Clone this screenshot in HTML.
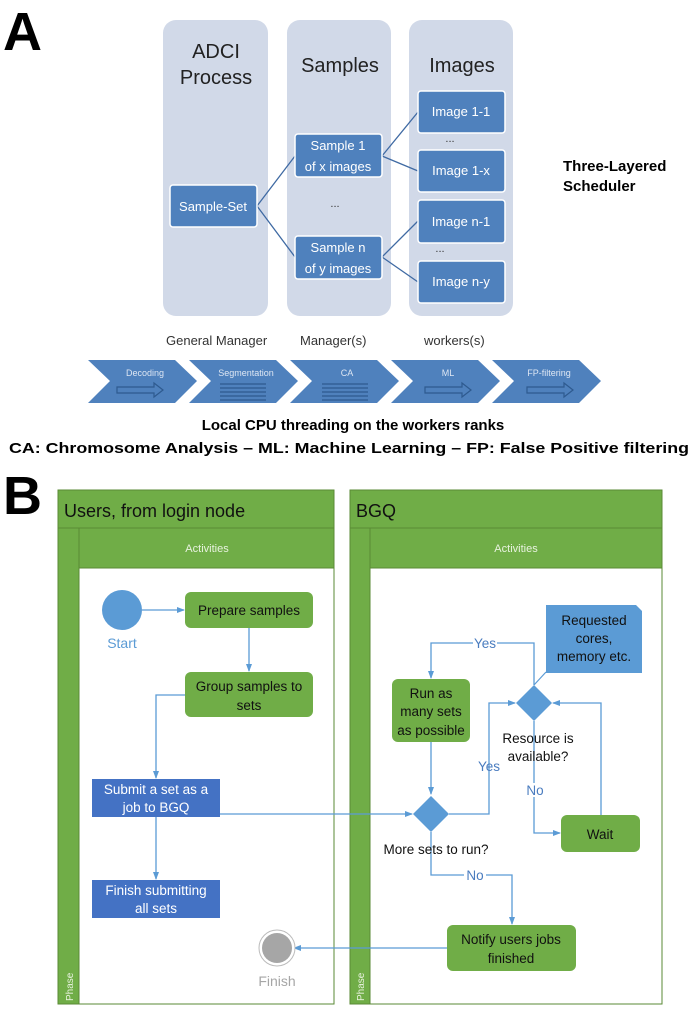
<!DOCTYPE html>
<html><head><meta charset="utf-8"><style>
html,body{margin:0;padding:0;background:#fff}
svg{display:block}
text{font-family:"Liberation Sans",sans-serif}
</style></head><body>
<svg width="694" height="1009" viewBox="0 0 694 1009" xmlns="http://www.w3.org/2000/svg">
<defs>
<marker id="ar" markerWidth="8" markerHeight="8" refX="7" refY="4" orient="auto" markerUnits="userSpaceOnUse"><path d="M0,1 L8,4 L0,7 Z" fill="#5b9bd5"/></marker>
</defs>
<!-- A -->
<text x="3" y="50" font-size="54" font-weight="bold">A</text>
<rect x="163" y="20" width="105" height="296" rx="13" fill="#d1d9e8"/>
<rect x="287" y="20" width="104" height="296" rx="13" fill="#d1d9e8"/>
<rect x="409" y="20" width="104" height="296" rx="13" fill="#d1d9e8"/>
<g font-size="20" fill="#222" text-anchor="middle">
<text x="216" y="58">ADCI</text><text x="216" y="84">Process</text>
<text x="340" y="72">Samples</text><text x="462" y="72">Images</text>
</g>
<g stroke="#3f6aa3" stroke-width="1.3" fill="none">
<path d="M257,206 L295,156 M257,206 L295,257 M382,156 L418,112 M382,156 L418,171 M382,257 L418,221 M382,257 L418,282"/>
</g>
<g fill="#4f81bd" stroke="#fff" stroke-width="1.5">
<rect x="170" y="185" width="87" height="42" rx="3"/>
<rect x="295" y="134" width="87" height="43" rx="3"/>
<rect x="295" y="236" width="87" height="43" rx="3"/>
<rect x="418" y="91" width="87" height="42" rx="3"/>
<rect x="418" y="150" width="87" height="42" rx="3"/>
<rect x="418" y="200" width="87" height="43" rx="3"/>
<rect x="418" y="261" width="87" height="42" rx="3"/>
</g>
<g font-size="13" fill="#fff" text-anchor="middle">
<text x="213" y="211">Sample-Set</text>
<text x="338" y="150">Sample 1</text><text x="338" y="171">of x images</text>
<text x="338" y="252">Sample n</text><text x="338" y="273">of y images</text>
<text x="461" y="116">Image 1-1</text><text x="461" y="175">Image 1-x</text>
<text x="461" y="226">Image n-1</text><text x="461" y="286">Image n-y</text>
</g>
<g font-size="11" fill="#333" text-anchor="middle"><text x="335" y="207">...</text><text x="450" y="142">...</text><text x="440" y="252">...</text></g>
<text x="563" y="171" font-size="15" font-weight="bold">Three-Layered</text>
<text x="563" y="191" font-size="15" font-weight="bold">Scheduler</text>
<g font-size="13" fill="#333"><text x="166" y="345">General Manager</text><text x="300" y="345">Manager(s)</text><text x="424" y="345">workers(s)</text></g>
<g fill="#4f81bd">
<path d="M88,360 L175,360 L197,381 L175,403 L88,403 L110,381 Z"/>
<path d="M189,360 L276,360 L298,381 L276,403 L189,403 L211,381 Z"/>
<path d="M290,360 L377,360 L399,381 L377,403 L290,403 L312,381 Z"/>
<path d="M391,360 L478,360 L500,381 L478,403 L391,403 L413,381 Z"/>
<path d="M492,360 L579,360 L601,381 L579,403 L492,403 L514,381 Z"/>
</g>
<g font-size="9" fill="#dde6f3" text-anchor="middle">
<text x="145" y="376">Decoding</text><text x="246" y="376">Segmentation</text><text x="347" y="376">CA</text><text x="448" y="376">ML</text><text x="549" y="376">FP-filtering</text>
</g>
<g stroke="#2e5a8f" stroke-width="1.2" fill="none">
<path d="M117,387 L154,387 L154,383 L163,390 L154,397 L154,393 L117,393 Z"/>
<path d="M425,387 L462,387 L462,383 L471,390 L462,397 L462,393 L425,393 Z"/>
<path d="M527,387 L564,387 L564,383 L573,390 L564,397 L564,393 L527,393 Z"/>
<path d="M220,384 H266 M220,388 H266 M220,392 H266 M220,396 H266 M220,400 H266"/>
<path d="M322,384 H368 M322,388 H368 M322,392 H368 M322,396 H368 M322,400 H368"/>
</g>
<g font-size="15" font-weight="bold" text-anchor="middle">
<text x="353" y="430">Local CPU threading on the workers ranks</text>
<text x="349" y="453" textLength="680" lengthAdjust="spacingAndGlyphs">CA: Chromosome Analysis – ML: Machine Learning – FP: False Positive filtering</text>
</g>
<!-- B -->
<text x="3" y="514" font-size="54" font-weight="bold">B</text>
<g stroke="#5a8a34" stroke-width="1">
<rect x="58" y="490" width="276" height="514" fill="#fff"/>
<rect x="58" y="490" width="276" height="38" fill="#70ad47"/>
<rect x="58" y="528" width="21" height="476" fill="#70ad47"/>
<rect x="79" y="528" width="255" height="40" fill="#70ad47"/>
<rect x="350" y="490" width="312" height="514" fill="#fff"/>
<rect x="350" y="490" width="312" height="38" fill="#70ad47"/>
<rect x="350" y="528" width="20" height="476" fill="#70ad47"/>
<rect x="370" y="528" width="292" height="40" fill="#70ad47"/>
</g>
<text x="64" y="517" font-size="18" fill="#111">Users, from login node</text>
<text x="356" y="517" font-size="18" fill="#111">BGQ</text>
<g font-size="11" fill="#e8f2df" text-anchor="middle"><text x="207" y="552">Activities</text><text x="516" y="552">Activities</text></g>
<g font-size="10" fill="#e8f2df"><text transform="translate(73,1001) rotate(-90)">Phase</text><text transform="translate(364,1001) rotate(-90)">Phase</text></g>
<!-- connectors -->
<g stroke="#5b9bd5" stroke-width="1.3" fill="none" marker-end="url(#ar)">
<path d="M142,610 H184"/>
<path d="M249,628 V671"/>
<path d="M185,695 H156 V778"/>
<path d="M156,817 V879"/>
<path d="M210,814 H412"/>
<path d="M431,742 V794"/>
<path d="M449,814 H489 V703 H515"/>
<path d="M534,685 V643 H431 V678"/>
<path d="M534,721 V833 H560"/>
<path d="M601,815 V703 H553"/>
<path d="M431,832 V875 H512 V924"/>
<path d="M447,948 H294"/>
</g>
<path d="M534,685 L546,672" stroke="#5b9bd5" stroke-width="1.2"/>
<!-- nodes -->
<circle cx="122" cy="610" r="20" fill="#5b9bd5"/>
<text x="122" y="648" font-size="14" fill="#5b9bd5" text-anchor="middle">Start</text>
<g fill="#70ad47">
<rect x="185" y="592" width="128" height="36" rx="6"/>
<rect x="185" y="672" width="128" height="45" rx="6"/>
<rect x="392" y="679" width="78" height="63" rx="6"/>
<rect x="561" y="815" width="79" height="37" rx="6"/>
<rect x="447" y="925" width="129" height="46" rx="6"/>
</g>
<g fill="#4472c4"><rect x="92" y="779" width="128" height="38"/><rect x="92" y="880" width="128" height="38"/></g>
<path d="M546,605 L636,605 L642,611 L642,673 L546,673 Z" fill="#5b9bd5"/>
<path d="M534,685 L552,703 L534,721 L516,703 Z" fill="#5b9bd5"/>
<path d="M431,796 L449,814 L431,832 L413,814 Z" fill="#5b9bd5"/>
<circle cx="277" cy="948" r="18" fill="#fff" stroke="#bbb" stroke-width="1"/>
<circle cx="277" cy="948" r="15" fill="#a6a6a6"/>
<text x="277" y="986" font-size="14" fill="#a6a6a6" text-anchor="middle">Finish</text>
<g font-size="13.5" fill="#111" text-anchor="middle">
<text x="249" y="615">Prepare samples</text>
<text x="249" y="691">Group samples to</text><text x="249" y="710">sets</text>
<text x="431" y="698">Run as</text><text x="431" y="716">many sets</text><text x="431" y="735">as possible</text>
<text x="600" y="839">Wait</text>
<text x="511" y="944">Notify users jobs</text><text x="511" y="963">finished</text>
<text x="594" y="625">Requested</text><text x="594" y="643">cores,</text><text x="594" y="661">memory etc.</text>
<text x="538" y="743">Resource is</text><text x="538" y="761">available?</text>
<text x="436" y="854">More sets to run?</text>
</g>
<g font-size="13.5" fill="#fff" text-anchor="middle">
<text x="156" y="794">Submit a set as a</text><text x="156" y="812">job to BGQ</text>
<text x="156" y="895">Finish submitting</text><text x="156" y="913">all sets</text>
</g>
<g font-size="13.5" fill="#4a7cbf" text-anchor="middle">
<rect x="473" y="636" width="24" height="14" fill="#fff"/><text x="485" y="648">Yes</text>
<text x="489" y="771">Yes</text>
<rect x="527" y="783" width="16" height="14" fill="#fff"/><text x="535" y="795">No</text>
<rect x="464" y="868" width="22" height="14" fill="#fff"/><text x="475" y="880">No</text>
</g>
</svg>
</body></html>
